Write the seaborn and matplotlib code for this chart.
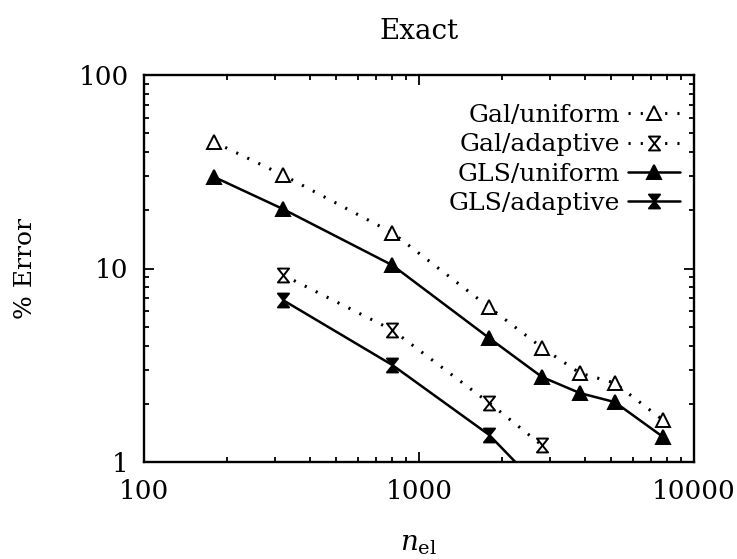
import numpy as np
import pandas as pd
import matplotlib
matplotlib.use("Agg")
import matplotlib.pyplot as plt
from matplotlib.path import Path
import seaborn as sns

# ---- data -------------------------------------------------------------
n_uniform = [180, 320, 800, 1800, 2800, 3850, 5150, 7700]
gal_uniform = [45.0, 30.4, 15.3, 6.3, 3.9, 2.88, 2.56, 1.65]
gls_uniform = [29.7, 20.3, 10.4, 4.37, 2.75, 2.27, 2.04, 1.35]

n_adaptive = [320, 800, 1800, 2800]
gal_adaptive = [9.26, 4.81, 2.02, 1.22]
gls_adaptive = [6.87, 3.17, 1.38, 0.72]

series_labels = ["Gal/uniform", "Gal/adaptive", "GLS/uniform", "GLS/adaptive"]
x_ticks = [100, 1000, 10000]
y_ticks = [1, 10, 100]

# ---- style ------------------------------------------------------------
sns.set_style("ticks")
plt.rcParams["font.family"] = ["DejaVu Serif"]
plt.rcParams["mathtext.fontset"] = "dejavuserif"
plt.rcParams["font.size"] = 18
for key in ["text.color", "axes.labelcolor", "xtick.color", "ytick.color",
            "axes.edgecolor"]:
    plt.rcParams[key] = "black"

# hourglass marker: two triangles meeting at their tips
hourglass = Path([(-0.8, 1.0), (0.8, 1.0), (-0.8, -1.0), (0.8, -1.0), (-0.8, 1.0)],
                 [Path.MOVETO, Path.LINETO, Path.LINETO, Path.LINETO, Path.CLOSEPOLY])

fig = plt.figure(figsize=(7.37, 5.59), dpi=100)
ax = fig.add_axes([144 / 737, 1 - 462 / 559, 550 / 737, 387 / 559])

dotted = dict(ls=(0, (0.7, 3.3)), lw=2.2)
solid = dict(ls="-", lw=1.8)
common = dict(color="black", markersize=10, markeredgecolor="black",
              markeredgewidth=1.4)

frames = {
    "Gal/uniform": (n_uniform, gal_uniform, dict(marker="^", markerfacecolor="white", **dotted)),
    "Gal/adaptive": (n_adaptive, gal_adaptive, dict(marker=hourglass, markerfacecolor="white", **dotted)),
    "GLS/uniform": (n_uniform, gls_uniform, dict(marker="^", markerfacecolor="black", **solid)),
    "GLS/adaptive": (n_adaptive, gls_adaptive, dict(marker=hourglass, markerfacecolor="black", **solid)),
}

for label in series_labels:
    xs, ys, style = frames[label]
    df = pd.DataFrame({"n": xs, "err": ys})
    sns.lineplot(data=df, x="n", y="err", ax=ax, label=label, **common, **style)

ax.set_xscale("log")
ax.set_yscale("log")
ax.set_xlim(100, 10000)
ax.set_ylim(1, 100)

ax.set_xticks(x_ticks)
ax.set_xticklabels([str(v) for v in x_ticks])
ax.set_yticks(y_ticks)
ax.set_yticklabels([str(v) for v in y_ticks])

ax.tick_params(which="both", direction="in", top=True, right=True, width=1.3,
               labelsize=19)
ax.tick_params(which="major", length=7, pad=12)
ax.tick_params(which="minor", length=3.5)
ax.tick_params(axis="y", which="major", pad=11)
for sp in ax.spines.values():
    sp.set_linewidth(1.7)

ax.set_title("Exact", pad=26, fontsize=20)
ax.set_xlabel(r"$n_{\mathrm{el}}$", fontsize=20)
ax.set_ylabel("% Error", fontsize=18)
ax.xaxis.label.set_va("center")
ax.xaxis.set_label_coords(0.5, -0.21)
ax.yaxis.label.set_va("center")
ax.yaxis.set_label_coords(-0.215, 0.5)

ax.legend(loc="upper right", bbox_to_anchor=(0.975, 0.925), frameon=False,
          markerfirst=False, handlelength=2.1, handletextpad=0.3,
          labelspacing=0.25, borderpad=0, borderaxespad=0, fontsize=18)

fig.savefig("out.png", dpi=100)
